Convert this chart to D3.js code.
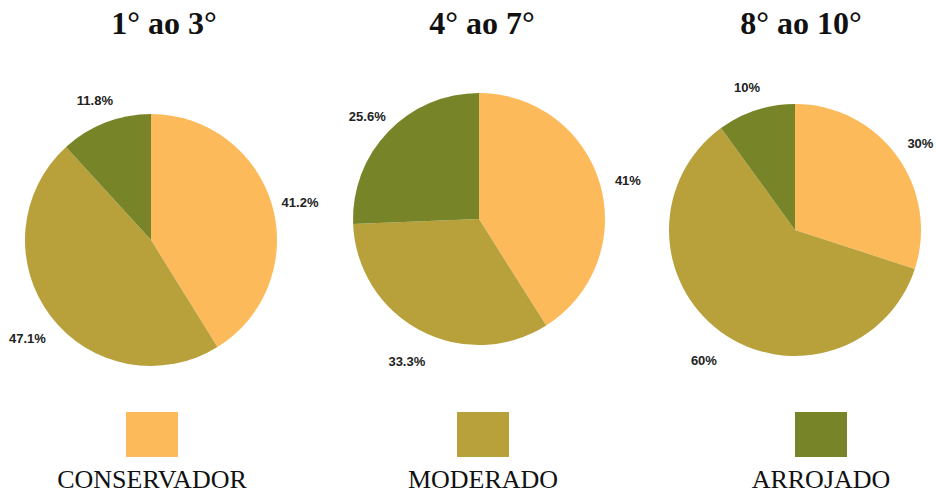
<!DOCTYPE html>
<html>
<head>
<meta charset="utf-8">
<script src="https://cdn.jsdelivr.net/npm/d3@7"></script>
<style>
  body { margin: 0; background: #fff; }
  svg { display: block; }
</style>
</head>
<body>
<svg width="936" height="495"></svg>
<script>
const categories = ['CONSERVADOR', 'MODERADO', 'ARROJADO']
const groups = ['1° ao 3°', '4° ao 7°', '8° ao 10°']
const values1to3 = [41.2, 47.1, 11.8]
const values4to7 = [41, 33.3, 25.6]
const values8to10 = [30, 60, 10]
const colors = ['#fcba5a', '#b8a03b', '#778528']

class GradePies {
  constructor(selector) {
    const svg = d3.select(selector)
    const series = [values1to3, values4to7, values8to10]

    // centres as laid out in the original slide
    const pies = [
      {cx: 151, cy: 240, titleX: 164},
      {cx: 479, cy: 219, titleX: 482},
      {cx: 795, cy: 230, titleX: 801}
    ]
    const legendX = [152, 483, 821]

    const radius = 126
    const color = d3.scaleOrdinal().domain(categories).range(colors)

    const pie = d3.pie().sort(null).value(d => d.value)
    const arc = d3.arc().innerRadius(0).outerRadius(radius)
    const labelArc = d3.arc().innerRadius(155).outerRadius(155)

    series.forEach((vals, i) => {
      const data = vals.map((v, j) => ({key: categories[j], value: v}))
      const g = svg.append('g')
        .attr('transform', 'translate(' + pies[i].cx + ',' + pies[i].cy + ')')

      g.selectAll('path')
        .data(pie(data))
        .enter().append('path')
        .attr('d', arc)
        .attr('fill', d => color(d.data.key))

      g.selectAll('text.pct')
        .data(pie(data))
        .enter().append('text')
        .attr('class', 'pct')
        .attr('x', d => labelArc.centroid(d)[0])
        .attr('y', d => labelArc.centroid(d)[1] + 5)
        .attr('text-anchor', 'middle')
        .attr('dominant-baseline', 'central')
        .style('font-family', '"Liberation Sans", Arial, sans-serif')
        .style('font-weight', 'bold')
        .style('font-size', '13px')
        .style('fill', '#222')
        .text(d => d.data.value + '%')

      svg.append('text')
        .attr('x', pies[i].titleX)
        .attr('y', 34)
        .attr('text-anchor', 'middle')
        .style('font-family', '"Liberation Serif", "Times New Roman", serif')
        .style('font-weight', 'bold')
        .style('font-size', '32px')
        .style('fill', '#111')
        .text(groups[i])
    })

    // legend: one swatch + label under each pie
    const legend = svg.append('g').selectAll('g')
      .data(categories)
      .enter().append('g')
      .attr('transform', (d, i) => 'translate(' + legendX[i] + ',0)')

    legend.append('rect')
      .attr('x', -26)
      .attr('y', 412)
      .attr('width', 52)
      .attr('height', 45)
      .attr('fill', d => color(d))

    legend.append('text')
      .attr('y', 488)
      .attr('text-anchor', 'middle')
      .style('font-family', '"Liberation Serif", "Times New Roman", serif')
      .style('font-size', '26px')
      .style('fill', '#111')
      .text(d => d)
  }
}

new GradePies('svg')
</script>
</body>
</html>
